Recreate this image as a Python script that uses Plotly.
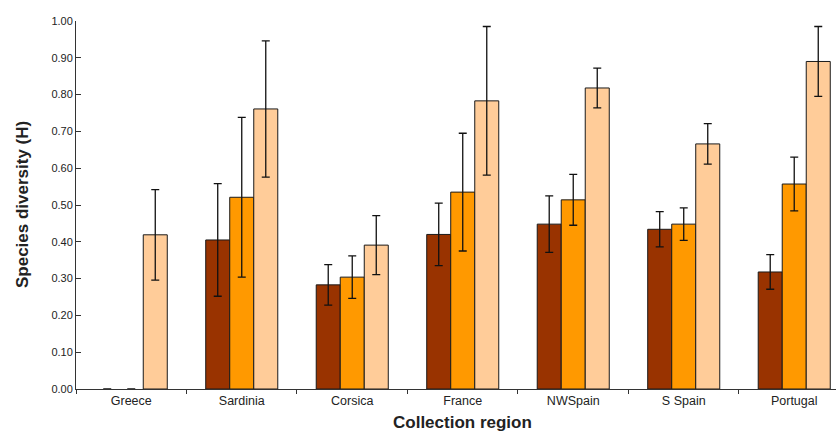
import plotly.graph_objects as go

regions = ["Greece", "Sardinia", "Corsica", "France", "NWSpain", "S Spain", "Portugal"]

# Species diversity (H) per collection region, three groups per region
dark_vals = [0.00, 0.405, 0.283, 0.420, 0.448, 0.434, 0.318]
dark_err = [0.00, 0.153, 0.055, 0.085, 0.077, 0.048, 0.047]

orange_vals = [0.00, 0.521, 0.304, 0.535, 0.514, 0.448, 0.557]
orange_err = [0.00, 0.217, 0.058, 0.160, 0.069, 0.044, 0.073]

light_vals = [0.419, 0.761, 0.391, 0.783, 0.818, 0.666, 0.890]
light_err = [0.123, 0.185, 0.080, 0.202, 0.054, 0.055, 0.095]

y_ticks = [0.0, 0.1, 0.2, 0.3, 0.4, 0.5, 0.6, 0.7, 0.8, 0.9, 1.0]

series = [
    (dark_vals, dark_err, "#993300"),
    (orange_vals, orange_err, "#FF9900"),
    (light_vals, light_err, "#FFCC99"),
]

fig = go.Figure()
for vals, errs, color in series:
    # no outline on empty (zero-height) bars, only their error caps remain
    outline = [1 if v > 0 else 0 for v in vals]
    fig.add_trace(go.Bar(
        x=regions,
        y=vals,
        marker=dict(color=color, line=dict(color="#1a1a1a", width=outline)),
        error_y=dict(type="data", array=errs, visible=True,
                     color="#111111", thickness=1.3, width=4),
        showlegend=False,
    ))

font_family = "Liberation Sans, Arial, sans-serif"

fig.update_layout(
    width=836,
    height=432,
    margin=dict(l=76, r=0, t=21, b=43),
    paper_bgcolor="white",
    plot_bgcolor="white",
    barmode="group",
    bargap=0.348,
    bargroupgap=0,
    font=dict(family=font_family, color="#222222"),
    xaxis=dict(
        range=[-0.5, 6.378],
        showline=True, linecolor="#333333", linewidth=1,
        ticks="outside", ticklen=4, tickcolor="#333333",
        tickson="boundaries",
        tickfont=dict(size=12.5, color="#222222"),
        showgrid=False, zeroline=False,
    ),
    yaxis=dict(
        range=[0, 1.0],
        tickvals=y_ticks,
        tickformat=".2f",
        showline=True, linecolor="#333333", linewidth=1,
        ticks="inside", ticklen=5, tickcolor="#333333",
        tickfont=dict(size=11, color="#222222"),
        showgrid=False, zeroline=False,
    ),
    annotations=[
        dict(text="<b>Collection region</b>", xref="x", yref="paper",
             x=3, y=-0.0916, xanchor="center", yanchor="middle",
             showarrow=False, font=dict(size=17, color="#222222")),
        dict(text="<b>Species diversity (H)</b>", xref="paper", yref="paper",
             x=-0.071, y=0.5, xanchor="center", yanchor="middle",
             textangle=-90, showarrow=False,
             font=dict(size=17, color="#222222")),
    ],
)

fig.write_html("out.html")
